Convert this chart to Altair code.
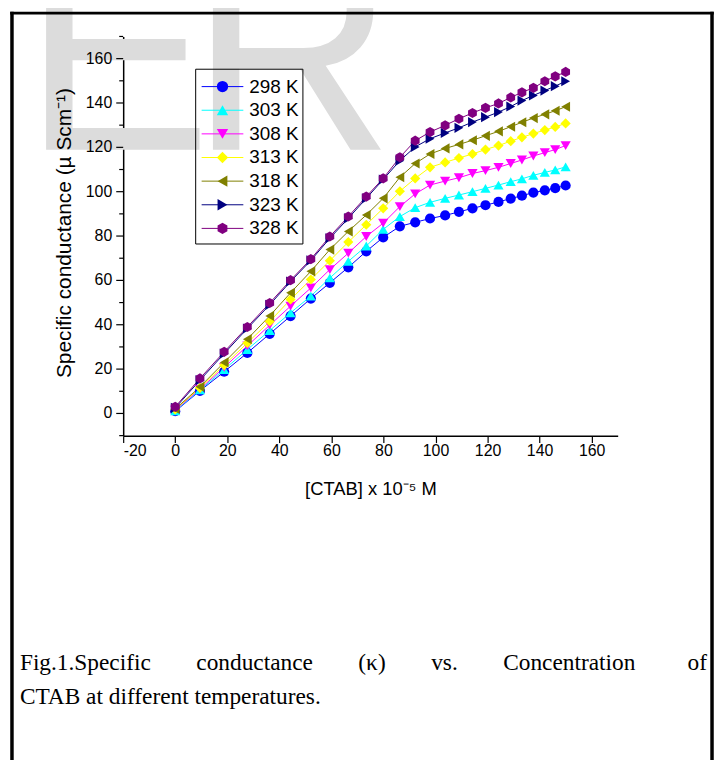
import altair as alt
import pandas as pd

# ---------------- data ----------------
series_names = ["298 K", "303 K", "308 K", "313 K", "318 K", "323 K", "328 K"]
series_colors = ["#0000FF", "#00FFFF", "#FF00FF", "#FFFF00", "#808000", "#000080", "#800080"]
hexagon = "M0,-1L0.866,-0.5L0.866,0.5L0,1L-0.866,0.5L-0.866,-0.5Z"
series_shapes = ["circle", "triangle-up", "triangle-down", "diamond",
                 "triangle-left", "triangle-right", hexagon]

ctab = [0, 9.5, 18.8, 27.7, 36.3, 44.3, 52.1, 59.4, 66.5, 73.4, 79.9, 86.3, 92.2,
        97.9, 103.7, 109.0, 114.2, 119.2, 124.2, 128.9, 133.2, 137.6, 142.0, 146.0, 150.0]

k298 = [1.0, 10.2, 18.8, 27.3, 35.9, 43.9, 51.8, 58.9, 65.9, 73.1, 79.4, 84.4, 86.2,
        87.9, 89.3, 90.9, 92.5, 93.9, 95.4, 96.9, 98.2, 99.6, 100.6, 101.6, 102.8]
k303 = [1.2, 10.6, 19.8, 28.8, 37.4, 45.4, 52.9, 61.1, 68.6, 75.5, 83.0, 88.8, 92.8,
        95.2, 97.0, 98.5, 100.0, 101.5, 103.0, 104.5, 105.8, 107.4, 108.7, 109.8, 111.2]
k308 = [1.5, 11.0, 20.8, 30.5, 39.8, 48.4, 56.6, 64.9, 72.3, 79.8, 85.8, 93.3, 99.0,
        103.0, 104.8, 106.3, 108.2, 109.5, 111.0, 112.7, 114.3, 116.1, 117.6, 119.0, 120.8]
k313 = [1.8, 11.5, 21.8, 31.8, 41.5, 51.4, 60.4, 68.9, 77.3, 85.1, 92.5, 100.2, 106.0,
        111.0, 113.2, 115.2, 117.0, 119.0, 120.8, 122.8, 124.5, 126.2, 127.8, 129.2, 130.8]
k318 = [2.0, 12.0, 23.0, 33.5, 44.0, 54.4, 64.1, 73.9, 82.1, 89.5, 97.0, 106.5, 112.7,
        117.0, 119.5, 121.3, 123.2, 125.2, 127.2, 129.3, 131.3, 133.2, 134.9, 136.5, 138.3]
k323 = [2.5, 15.0, 27.0, 38.3, 49.0, 59.5, 69.0, 79.0, 88.0, 97.0, 105.5, 114.0, 120.2,
        123.9, 126.5, 128.8, 131.4, 133.6, 135.9, 138.4, 141.1, 143.4, 145.6, 147.6, 149.8]
k328 = [3.0, 15.8, 27.8, 39.0, 49.8, 60.1, 69.6, 79.8, 88.8, 97.8, 106.0, 115.5, 123.0,
        126.9, 129.9, 132.9, 135.5, 137.8, 139.8, 142.5, 144.8, 146.8, 149.8, 152.0, 154.0]

x_ticks = list(range(-20, 171, 10))
y_major = [0, 20, 40, 60, 80, 100, 120, 140, 160]
y_minor = [-10, 10, 30, 50, 70, 90, 110, 130, 150, 170]

x_title = "[CTAB] x 10\u207b\u2075 M"
y_title = "Specific conductance (\u00b5 Scm\u207b\u00b9)"
caption_line1_words = ["Fig.1.Specific", "conductance", "(\u03ba)", "vs.", "Concentration", "of"]
caption_line2 = "CTAB at different temperatures."
watermark_letters = ["E", "R"]

# ---------------- build tables ----------------
all_k = [k298, k303, k308, k313, k318, k323, k328]
rows = []
for name, vals in zip(series_names, all_k):
    for xv, yv in zip(ctab, vals):
        rows.append({"series": name, "c": xv, "k": yv})
df = pd.DataFrame(rows)
leg = pd.DataFrame({"series": series_names, "idx": list(range(len(series_names)))})
ymaj = pd.DataFrame({"k": y_major})
ymin = pd.DataFrame({"k": y_minor})
one = pd.DataFrame({"a": [0]})

W, H = 498, 402
SANS = "Liberation Sans, Arial"
Y0, Y1 = -10, 170

color = alt.Color("series:N", scale=alt.Scale(domain=series_names, range=series_colors), legend=None)
shape = alt.Shape("series:N", scale=alt.Scale(domain=series_names, range=series_shapes), legend=None)

x_tick_cond = {"condition": {"test": "datum.value % 20 == 0", "value": 7}, "value": 4}

xenc = alt.X("c:Q", scale=alt.Scale(domain=[-20, 170], nice=False, zero=False),
             axis=alt.Axis(values=x_ticks, title=x_title, labelOverlap=False,
                           labelExpr="datum.value % 20 == 0 ? '' + datum.value : ''",
                           tickSize=x_tick_cond, labelPadding=0, titlePadding=21))
yenc = alt.Y("k:Q", scale=alt.Scale(domain=[Y0, Y1], nice=False, zero=False),
             axis=alt.Axis(title=None, labels=False, ticks=False))

wm = alt.Chart(pd.DataFrame({"ch": watermark_letters, "i": [0, 1]})).transform_calculate(
    wx="datum.i == 0 ? -101 : 67").mark_text(
    font=SANS, fontSize=285, color="#DCDCDC", align="left", baseline="alphabetic").encode(
    x=alt.X("wx:Q", scale=None, axis=None), y=alt.value(114), text="ch:N")

lines = alt.Chart(df).mark_line(strokeWidth=1).encode(
    x=xenc, y=yenc, color=color, detail="series:N", order="c:Q")
pts = alt.Chart(df).mark_point(filled=True, size=105, opacity=1).encode(
    x="c:Q", y="k:Q", color=color, shape=shape)

# y ticks, tick labels and title
ytick_major = alt.Chart(ymaj).mark_rule(color="black", strokeWidth=1.2).encode(
    x=alt.value(-7), x2=alt.value(0), y="k:Q")
ytick_minor = alt.Chart(ymin).mark_rule(color="black", strokeWidth=1.2).encode(
    x=alt.value(-4), x2=alt.value(0), y="k:Q")
ylabels = alt.Chart(ymaj).mark_text(align="right", baseline="middle", font=SANS, fontSize=16,
                                    color="black").encode(
    x=alt.value(-11), y="k:Q", text="k:Q")
ytitle = alt.Chart(one).mark_text(text=y_title, angle=270, align="center", baseline="middle",
                                  font=SANS, fontSize=21, color="black").encode(
    x=alt.value(-59), y=alt.value(H / 2 - 3))

# legend (rows placed in plot-pixel units converted to the y data scale)
legbox = alt.Chart(one).mark_rect(fillOpacity=0, stroke="black", strokeWidth=1).encode(
    x=alt.value(73), x2=alt.value(181), y=alt.value(33), y2=alt.value(209))
leg_base = alt.Chart(leg).transform_calculate(
    ly=f"{Y1} - (50.5 + datum.idx * 23.8) * {(Y1 - Y0) / H}")
leg_line = leg_base.mark_rule(strokeWidth=1).encode(
    x=alt.value(79), x2=alt.value(121), y="ly:Q", color=color)
leg_pt = leg_base.mark_point(filled=True, size=130, opacity=1).encode(
    x=alt.value(100), y="ly:Q", color=color, shape=shape)
leg_txt = leg_base.mark_text(align="left", baseline="middle", font=SANS, fontSize=19,
                             color="black").encode(
    x=alt.value(127), y="ly:Q", text="series:N")

# frame
frame_l = alt.Chart(one).mark_rule(strokeWidth=3.5, color="black").encode(
    x=alt.value(-112), y=alt.value(-25), y2=alt.value(730))
frame_r = alt.Chart(one).mark_rule(strokeWidth=3.5, color="black").encode(
    x=alt.value(593), y=alt.value(-25), y2=alt.value(730))
frame_t = alt.Chart(one).mark_rule(strokeWidth=3, color="black").encode(
    x=alt.value(-113.75), x2=alt.value(594.75), y=alt.value(-23.5))

# caption (first line justified: last word right-aligned)
gap = "\u00a0" * 7 + "\u2009"
cap_style = dict(font="Liberation Serif", fontSize=23.5, color="black", baseline="alphabetic")
cap1a = alt.Chart(one).mark_text(text=gap.join(caption_line1_words[:-1]), align="left",
                                 **cap_style).encode(x=alt.value(-104), y=alt.value(638))
cap1b = alt.Chart(one).mark_text(text=caption_line1_words[-1], align="right",
                                 **cap_style).encode(x=alt.value(588), y=alt.value(638))
cap2 = alt.Chart(one).mark_text(text=caption_line2, align="left",
                                **cap_style).encode(x=alt.value(-104), y=alt.value(672))

chart = alt.layer(wm, frame_l, frame_r, frame_t, lines, pts, ytick_major, ytick_minor,
                  ylabels, ytitle, legbox, leg_line, leg_pt, leg_txt,
                  cap1a, cap1b, cap2).properties(
    width=W, height=H, background="white",
    padding={"left": 116, "top": 26, "right": 98, "bottom": 324},
    autosize=alt.AutoSizeParams(type="none"),
).configure_view(strokeWidth=0).configure_axis(
    grid=False, domainColor="black", domainWidth=1.5, tickColor="black", tickWidth=1.2,
    labelFont=SANS, labelFontSize=16, labelColor="black", zindex=1,
    titleFont=SANS, titleFontSize=18.5, titleFontWeight="normal", titleColor="black",
)

chart.save("out.html", embed_options={"renderer": "svg", "actions": False})
